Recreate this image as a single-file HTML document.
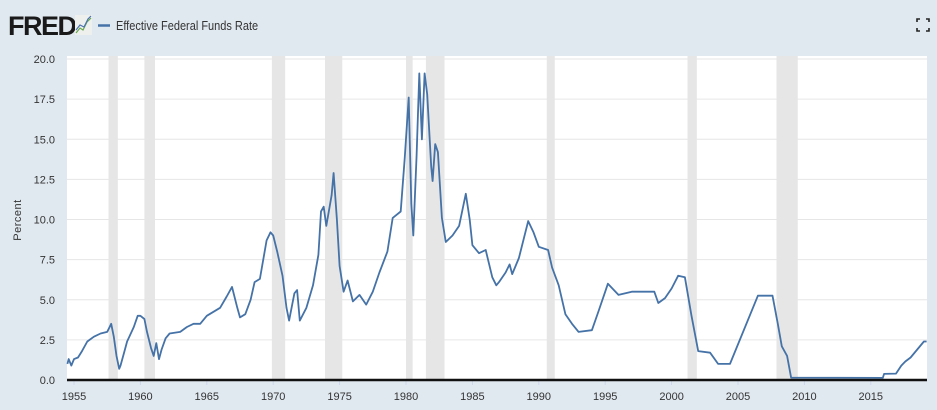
<!DOCTYPE html>
<html><head><style>
body{margin:0;background:#e1e9f0;}
svg{display:block;font-family:"Liberation Sans",sans-serif;}
</style></head><body>
<svg id="c" width="937" height="410" viewBox="0 0 937 410">
<rect width="937" height="410" fill="#e1e9f0"/>
<text x="8" y="35" font-size="27" font-weight="bold" fill="#1a1a1a" letter-spacing="-1.5">FRED</text>
<rect x="75" y="15" width="17" height="20" fill="#eef0ee"/>
<polyline points="76,33 80,28 83,30 87,22 91,18" fill="none" stroke="#6aa84f" stroke-width="1.2"/>
<polyline points="76,30 80,25 84,27 88,19 91,16" fill="none" stroke="#4a72b0" stroke-width="1.2"/>
<line x1="98" y1="25.5" x2="110" y2="25.5" stroke="#4572a7" stroke-width="2.5"/>
<text x="116" y="30" font-size="12.5" fill="#333" transform="scale(0.88,1)" transform-origin="116 30">Effective Federal Funds Rate</text>
<g fill="none" stroke="#222" stroke-width="1.6"><path d="M920 19h-3v3M926 19h3v3M920 31h-3v-3M926 31h3v-3"/></g>
<rect x="67" y="56" width="860" height="324" fill="#fff"/>
<g id="rec" fill="#e6e6e6"></g>
<g id="grid" stroke="#e6e6e6" stroke-width="1"></g>
<g id="yl" font-size="11" fill="#333" text-anchor="end"></g>
<g id="xl" font-size="11" fill="#333" text-anchor="middle"></g>
<text transform="translate(21,220) rotate(-90)" font-size="11" fill="#333" text-anchor="middle" letter-spacing="0.5">Percent</text>
<path id="ln" fill="none" stroke="#4572a7" stroke-width="1.8" stroke-linejoin="round"/>
<line x1="67" y1="380" x2="927" y2="380" stroke="#111" stroke-width="2.5"/>
</svg>
<script>
var NS="http://www.w3.org/2000/svg";
function X(y){return 74+(y-1955)*13.28;}
function Y(v){return 380-v*16.05;}
function el(p,t,a,txt){var e=document.createElementNS(NS,t);for(var k in a)e.setAttribute(k,a[k]);if(txt)e.textContent=txt;document.getElementById(p).appendChild(e);}
[[1957.6,1958.3],[1960.3,1961.1],[1969.9,1970.9],[1973.9,1975.2],[1980.0,1980.5],[1981.5,1982.9],[1990.6,1991.2],[2001.2,2001.9],[2007.9,2009.5]].forEach(function(r){el("rec","rect",{x:X(r[0]),y:56,width:X(r[1])-X(r[0]),height:324});});
for(var i=1;i<=8;i++){var v=i*2.5;el("grid","line",{x1:67,x2:927,y1:Y(v),y2:Y(v)});}
for(var i=0;i<=8;i++){var v=i*2.5;el("yl","text",{x:55,y:Y(v)+4},v.toFixed(1));}
for(var y=1955;y<=2015;y+=5){el("xl","text",{x:X(y),y:400},""+y);el("grid","line",{x1:X(y),x2:X(y),y1:380,y2:385,stroke:"#ccd6eb"});}
var d=[1954.5,1.0,1954.6,1.3,1954.8,0.9,1955.0,1.3,1955.3,1.4,1955.6,1.8,1956.0,2.4,1956.5,2.7,1957.0,2.9,1957.5,3.0,1957.8,3.5,1958.0,2.7,1958.2,1.5,1958.4,0.7,1958.5,0.9,1958.8,1.8,1959.0,2.4,1959.5,3.3,1959.8,4.0,1960.0,4.0,1960.3,3.8,1960.5,3.0,1960.8,2.0,1961.0,1.5,1961.2,2.3,1961.4,1.3,1961.6,1.9,1961.9,2.6,1962.2,2.9,1963,3.0,1963.5,3.3,1964,3.5,1964.5,3.5,1965,4.0,1966,4.5,1966.5,5.2,1966.9,5.8,1967.3,4.5,1967.5,3.9,1967.9,4.1,1968.3,5.0,1968.6,6.1,1969.0,6.3,1969.5,8.7,1969.8,9.2,1970,9.0,1970.3,8.0,1970.7,6.5,1971.0,4.5,1971.2,3.7,1971.6,5.4,1971.8,5.6,1972.0,3.7,1972.5,4.5,1973,5.9,1973.4,7.8,1973.6,10.5,1973.8,10.8,1974,9.6,1974.4,11.5,1974.55,12.9,1974.8,10,1975.0,7.1,1975.3,5.5,1975.6,6.2,1976,4.9,1976.5,5.3,1977,4.7,1977.5,5.5,1978,6.7,1978.6,8.0,1979,10.1,1979.6,10.5,1979.9,13.8,1980.2,17.6,1980.4,11,1980.55,9.0,1980.8,14,1981.0,19.1,1981.2,15.0,1981.4,19.1,1981.6,17.8,1981.9,13.3,1982.0,12.4,1982.2,14.7,1982.4,14.2,1982.7,10.1,1983.0,8.6,1983.5,9.0,1984,9.6,1984.5,11.6,1984.8,10,1985,8.4,1985.5,7.9,1986,8.1,1986.5,6.4,1986.8,5.9,1987,6.1,1987.5,6.7,1987.8,7.2,1988,6.6,1988.5,7.6,1989.2,9.9,1989.6,9.2,1990,8.3,1990.7,8.1,1991.0,7.0,1991.5,5.9,1992.0,4.1,1992.5,3.5,1993,3.0,1994,3.1,1994.5,4.3,1995,5.5,1995.2,6.0,1996,5.3,1997,5.5,1998.7,5.5,1999,4.8,1999.5,5.1,2000,5.7,2000.5,6.5,2001,6.4,2001.5,4.0,2002,1.8,2002.9,1.7,2003.5,1.0,2004.4,1.0,2006.5,5.25,2007.6,5.25,2008.0,3.5,2008.3,2.1,2008.7,1.5,2009.0,0.15,2015.9,0.13,2016,0.38,2016.9,0.4,2017.3,0.9,2017.6,1.15,2018,1.4,2019.0,2.4,2019.2,2.4];
var p="";for(var i=0;i<d.length;i+=2)p+=(i?"L":"M")+X(d[i]).toFixed(1)+" "+Y(d[i+1]).toFixed(1);
document.getElementById("ln").setAttribute("d",p);
</script>
</body></html>
